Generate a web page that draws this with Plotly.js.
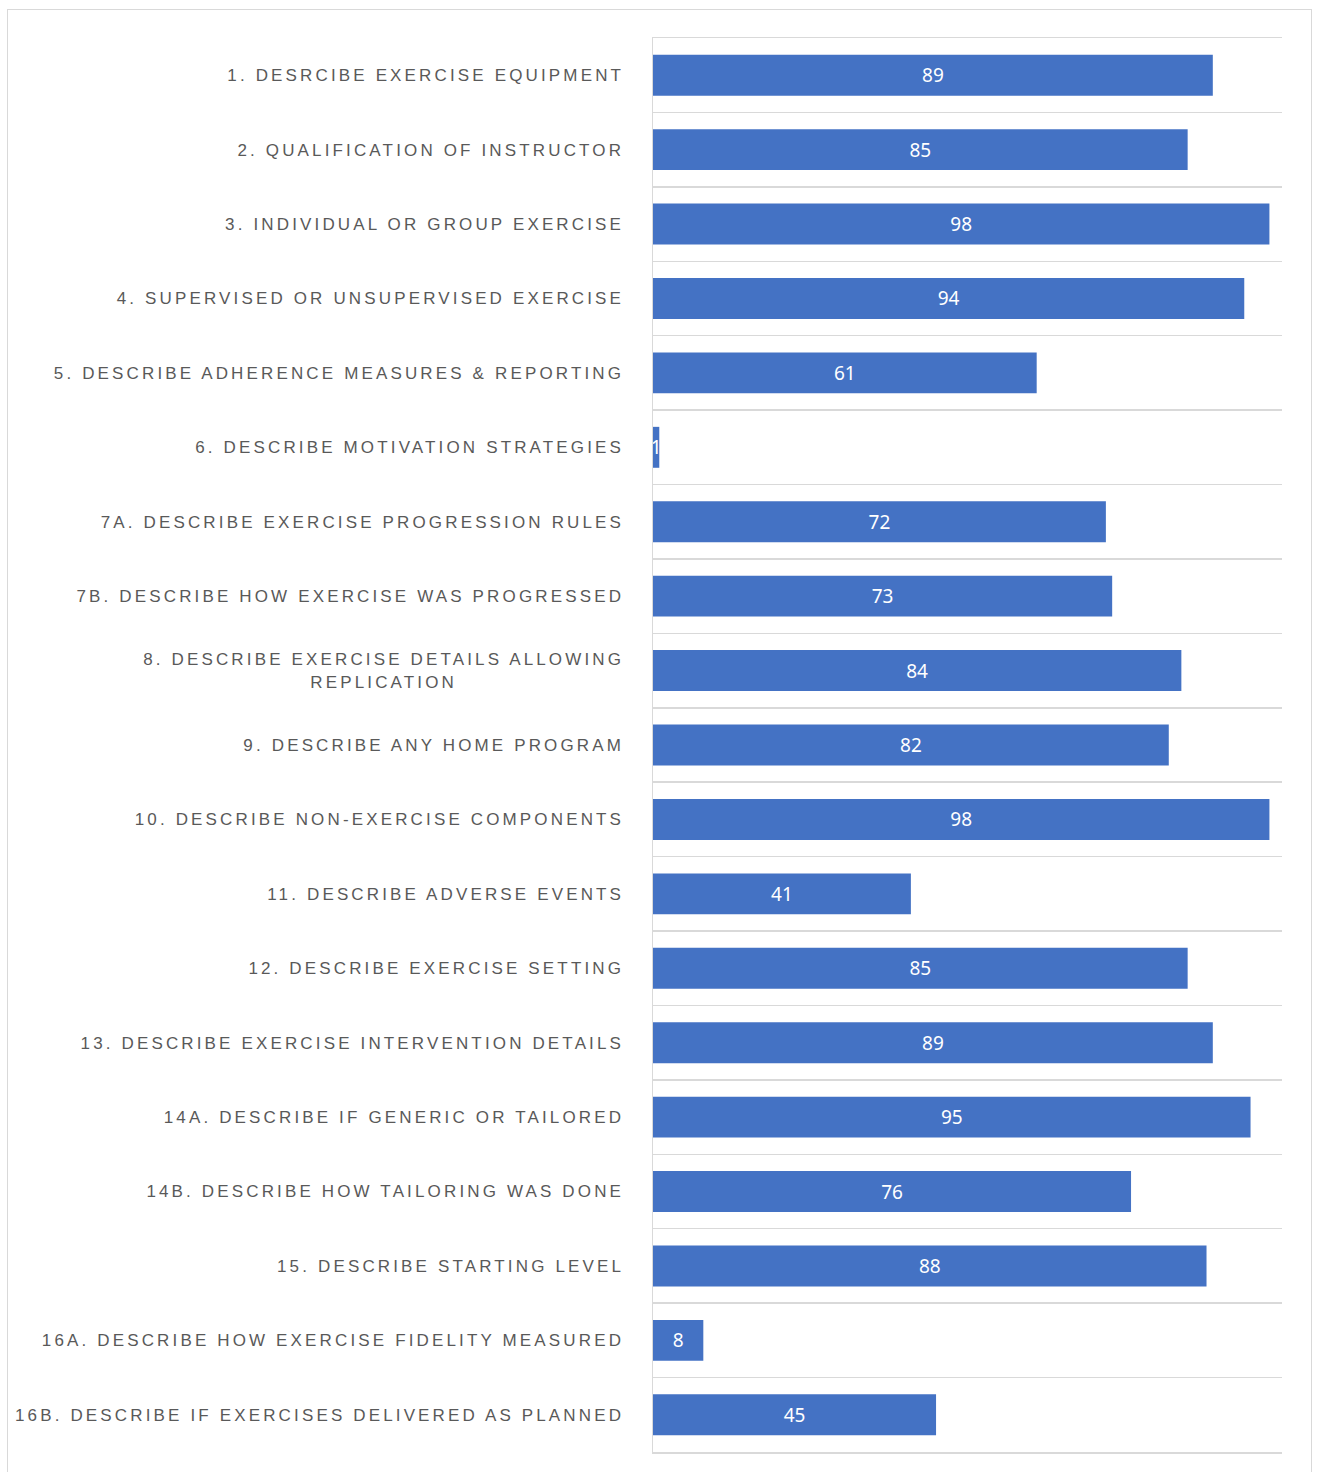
<!DOCTYPE html>
<html>
<head>
<meta charset="utf-8">
<script src="https://cdn.plot.ly/plotly-3.0.1.min.js"></script>
<style>
  html, body { margin: 0; padding: 0; background: #fff; }
  #frame { position: absolute; left: 7px; top: 9px; width: 1305px; height: 1475px; border: 1.5px solid #d9d9d9; box-sizing: border-box; pointer-events: none; z-index: 5; }
  #chart { position: absolute; left: 0; top: 0; width: 1317px; height: 1472px; }
  #chart .ytick text { letter-spacing: 3.15px; }
</style>
</head>
<body>
<div id="chart"></div>
<div id="frame"></div>
<script>
const categories = [
  "1. DESRCIBE EXERCISE EQUIPMENT",
  "2. QUALIFICATION OF INSTRUCTOR",
  "3. INDIVIDUAL OR GROUP EXERCISE",
  "4. SUPERVISED OR UNSUPERVISED EXERCISE",
  "5. DESCRIBE ADHERENCE MEASURES & REPORTING",
  "6. DESCRIBE MOTIVATION STRATEGIES",
  "7A. DESCRIBE EXERCISE PROGRESSION RULES",
  "7B. DESCRIBE HOW EXERCISE WAS PROGRESSED",
  "8. DESCRIBE EXERCISE DETAILS ALLOWING<br>REPLICATION",
  "9. DESCRIBE ANY HOME PROGRAM",
  "10. DESCRIBE NON-EXERCISE COMPONENTS",
  "11. DESCRIBE ADVERSE EVENTS",
  "12. DESCRIBE EXERCISE SETTING",
  "13. DESCRIBE EXERCISE INTERVENTION DETAILS",
  "14A. DESCRIBE IF GENERIC OR TAILORED",
  "14B. DESCRIBE HOW TAILORING WAS DONE",
  "15. DESCRIBE STARTING LEVEL",
  "16A. DESCRIBE HOW EXERCISE FIDELITY MEASURED",
  "16B. DESCRIBE IF EXERCISES DELIVERED AS PLANNED"
];
const values = [89, 85, 98, 94, 61, 1, 72, 73, 84, 82, 98, 41, 85, 89, 95, 76, 88, 8, 45];

const trace = {
  type: 'bar',
  orientation: 'h',
  y: categories,
  x: values,
  text: values.map(String),
  textposition: 'inside',
  insidetextanchor: 'middle',
  constraintext: 'none',
  textfont: { family: 'Noto Sans, sans-serif', size: 19, color: '#ffffff' },
  marker: { color: '#4472C4', line: { width: 0 } },
  hoverinfo: 'none',
  cliponaxis: true
};

const layout = {
  width: 1317,
  height: 1472,
  margin: { l: 653, r: 35, t: 38, b: 20, pad: 0 },
  paper_bgcolor: '#ffffff',
  plot_bgcolor: '#ffffff',
  bargap: 0.45,
  showlegend: false,
  xaxis: {
    range: [0, 100],
    showticklabels: false,
    showgrid: false,
    zeroline: false,
    showline: true,
    mirror: true,
    linecolor: '#d9d9d9',
    linewidth: 1.5,
    ticks: ''
  },
  yaxis: {
    type: 'category',
    autorange: 'reversed',
    tickson: 'boundaries',
    showgrid: true,
    gridcolor: '#d9d9d9',
    gridwidth: 1.5,
    showline: true,
    linecolor: '#d9d9d9',
    linewidth: 1.5,
    zeroline: false,
    ticks: '',
    ticklabelstandoff: 24,
    tickfont: { family: 'Liberation Sans, Arial, sans-serif', size: 17, color: '#595959' }
  }
};

Plotly.newPlot('chart', [trace], layout, { displayModeBar: false, staticPlot: true }).then(() => {
  document.querySelectorAll('#chart .ytick text').forEach(t => {
    const lines = t.querySelectorAll('tspan.line');
    if (lines.length > 1) {
      const w0 = lines[0].getComputedTextLength();
      const xAttr = parseFloat(t.getAttribute('x')) || 0;
      const cx = xAttr - w0 / 2;
      t.setAttribute('text-anchor', 'middle');
      t.setAttribute('x', cx);
      lines.forEach(l => l.setAttribute('x', cx));
    }
  });
});
</script>
</body>
</html>
